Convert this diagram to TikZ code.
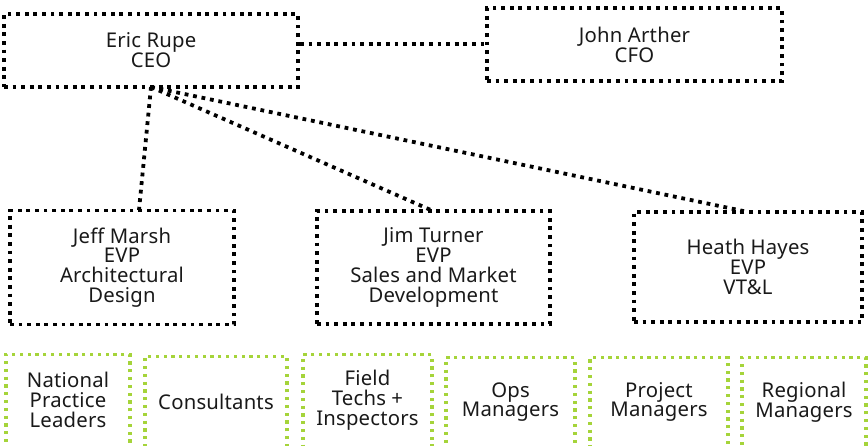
\documentclass[tikz,border=0pt]{standalone}
\usepackage{fontspec}
\setmainfont{Noto Sans}[LetterSpace=1]
\definecolor{lime}{RGB}{165,212,58}
\tikzset{
  x=1pt, y=-1pt,
  lbl/.style={font=\fontsize{20.3}{19.8}\selectfont, align=center, text=black!90},
  bbox/.style={draw=black, line width=3.8pt, dash pattern=on 3.8pt off 4.8pt, rectangle, inner sep=0pt},
  gbox/.style={draw=lime, line width=3.2pt, dash pattern=on 3.2pt off 4.6pt, rectangle, inner sep=0pt},
  conn/.style={draw=black, line width=3.8pt, dash pattern=on 3.8pt off 4.8pt},
}
\begin{document}
\begin{tikzpicture}
\useasboundingbox (0,0) rectangle (868,445);
\clip (0,0) rectangle (868,445);
% top boxes
\node[bbox, minimum width=294pt, minimum height=73pt] (eric) at (151,50.5) {};
\node[lbl] at (eric.center) {Eric Rupe\\CEO};
\node[bbox, minimum width=295pt, minimum height=73pt] (john) at (634.5,44.5) {};
\node[lbl] at (john.center) {John Arther\\CFO};
% EVP boxes
\node[bbox, minimum width=224pt, minimum height=114pt] (jeff) at (122,267.5) {};
\node[lbl] at (jeff.center) {Jeff Marsh\\EVP\\Architectural\\Design};
\node[bbox, minimum width=233pt, minimum height=113pt] (jim) at (433.5,267.5) {};
\node[lbl] at (jim.center) {Jim Turner\\EVP\\Sales and Market\\Development};
\node[bbox, minimum width=228pt, minimum height=110pt] (heath) at (748,267) {};
\node[lbl] at (heath.center) {Heath Hayes\\EVP\\VT\&L};
% connectors
\coordinate (hub) at (151,87);
\coordinate (jefftop) at (139,210);
\coordinate (jimtop) at (433,211);
\coordinate (heathtop) at (748,212);
\draw[conn] (eric.east |- 0,44) -- (john.west |- 0,44);
\draw[conn] (hub) -- (jefftop);
\draw[conn] (hub) -- (jimtop);
\draw[conn] (hub) -- (heathtop);
% green boxes
\node[gbox, minimum width=124pt, minimum height=120pt, anchor=north] (g1) at (68,353) {};
\node[lbl] at (68,400) {National\\Practice\\Leaders};
\node[gbox, minimum width=142pt, minimum height=120pt, anchor=north] (g2) at (216,355) {};
\node[lbl] at (216,402) {Consultants};
\node[gbox, minimum width=129pt, minimum height=120pt, anchor=north] (g3) at (367.5,353) {};
\node[lbl] at (367.5,400) {Field\\Techs +\\Inspectors};
\node[gbox, minimum width=129pt, minimum height=120pt, anchor=north] (g4) at (510.5,356) {};
\node[lbl] at (510.5,402) {Ops\\Managers};
\node[gbox, minimum width=138pt, minimum height=120pt, anchor=north] (g5) at (659,356) {};
\node[lbl] at (659,402) {Project\\Managers};
\node[gbox, minimum width=124pt, minimum height=120pt, anchor=north] (g6) at (804,356) {};
\node[lbl] at (804,402) {Regional\\Managers};
\end{tikzpicture}
\end{document}
